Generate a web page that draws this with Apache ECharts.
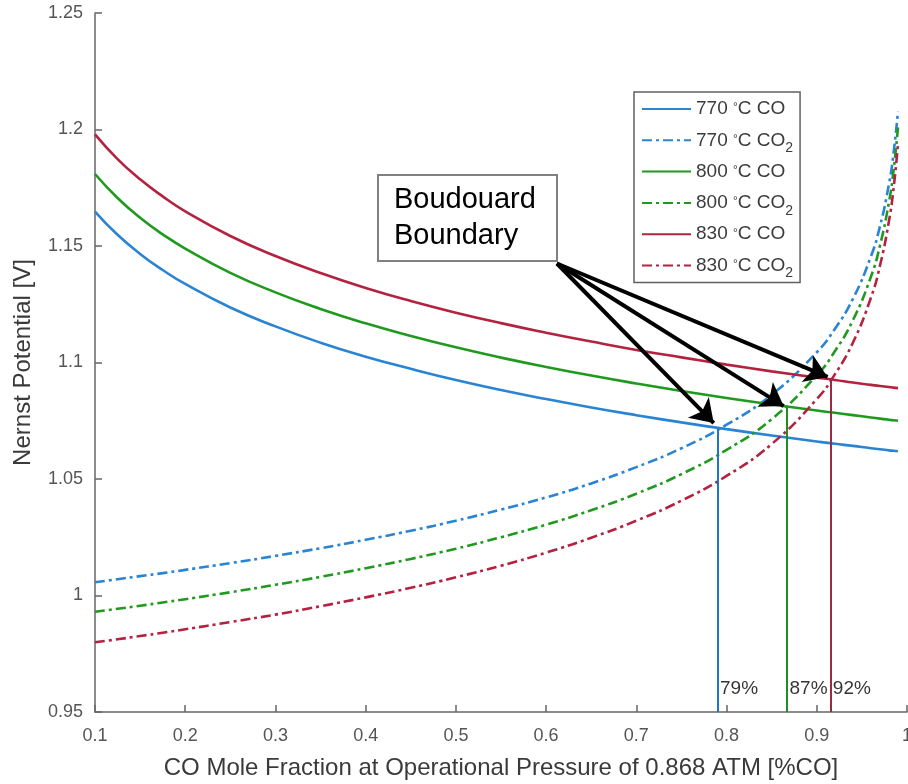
<!DOCTYPE html>
<html>
<head>
<meta charset="utf-8">
<script src="https://cdn.jsdelivr.net/npm/echarts@6/dist/echarts.min.js"></script>
<style>
  html, body { margin: 0; padding: 0; background: #fff; }
  #chart { width: 908px; height: 784px; }
</style>
</head>
<body>
<div id="chart"></div>
<script>
// CO mole fraction (x) sample points
const xs = [0.1, 0.125, 0.15, 0.175, 0.2, 0.25, 0.3, 0.35, 0.4, 0.45, 0.5, 0.55, 0.6, 0.65,
            0.7, 0.75, 0.8, 0.85, 0.9, 0.92, 0.94, 0.96, 0.97, 0.98, 0.985, 0.99];

// Nernst potential [V], solid = CO curves, dash-dot = CO2 curves
const co770 = [1.1648, 1.1548, 1.1466, 1.1397, 1.1337, 1.1236, 1.1155, 1.1085, 1.1025, 1.0973, 1.0925, 1.0882, 1.0843, 1.0807,
               1.0774, 1.0743, 1.0714, 1.0687, 1.0661, 1.0651, 1.0642, 1.0632, 1.0628, 1.0623, 1.0621, 1.0619];
const co2770 = [1.0057, 1.0070, 1.0083, 1.0096, 1.0110, 1.0139, 1.0170, 1.0203, 1.0239, 1.0278, 1.0321, 1.0369, 1.0421, 1.0481,
                1.0551, 1.0632, 1.0733, 1.0862, 1.1044, 1.1144, 1.1273, 1.1455, 1.1584, 1.1766, 1.1896, 1.2078];
const co800 = [1.1809, 1.1706, 1.1621, 1.1550, 1.1489, 1.1385, 1.1301, 1.1230, 1.1168, 1.1114, 1.1065, 1.1021, 1.0981, 1.0944,
               1.0910, 1.0878, 1.0848, 1.0820, 1.0794, 1.0784, 1.0774, 1.0764, 1.0759, 1.0754, 1.0752, 1.0750];
const co2800 = [0.9930, 0.9943, 0.9956, 0.9970, 0.9984, 1.0014, 1.0046, 1.0080, 1.0117, 1.0157, 1.0201, 1.0250, 1.0304, 1.0366,
                1.0437, 1.0521, 1.0625, 1.0757, 1.0945, 1.1048, 1.1181, 1.1368, 1.1501, 1.1688, 1.1821, 1.2009];
const co830 = [1.1979, 1.1873, 1.1786, 1.1713, 1.1649, 1.1543, 1.1457, 1.1384, 1.1320, 1.1264, 1.1214, 1.1169, 1.1128, 1.1090,
               1.1054, 1.1022, 1.0991, 1.0962, 1.0935, 1.0925, 1.0914, 1.0904, 1.0899, 1.0895, 1.0892, 1.0890];
const co2830 = [0.9799, 0.9812, 0.9826, 0.9840, 0.9855, 0.9886, 0.9918, 0.9954, 0.9992, 1.0033, 1.0078, 1.0128, 1.0184, 1.0248,
                1.0321, 1.0407, 1.0513, 1.0650, 1.0843, 1.0949, 1.1085, 1.1278, 1.1415, 1.1607, 1.1744, 1.1936];

// Boudouard boundary crossings
const boundaryX = [0.79, 0.867, 0.915];
const boundaryY = [1.0717, 1.0808, 1.093];
const boundaryLabels = ['79%', '87%', '92%'];
// arrow start (box corner) and arrow tips, in data units
const arrowStart = [0.612, 1.1425];
const arrowTips = [[0.7858, 1.0740], [0.8633, 1.0813], [0.912, 1.0938]];

const blue = '#2a84d4', green = '#1f9a1f', red = '#b3223f';
const dashDot = [10, 4, 3, 4];
const font = 'Liberation Sans, Arial, sans-serif';

function pairs(vals) {
  return xs.map((x, i) => [x, vals[i]]);
}

function curve(name, vals, color, dashed, vline) {
  const s = {
    name: name,
    type: 'line',
    data: pairs(vals),
    smooth: true,
    symbol: 'none',
    lineStyle: { color: color, width: 2.6, type: dashed ? dashDot : 'solid' },
    itemStyle: { color: color },
    z: 3
  };
  if (vline) {
    s.markLine = {
      silent: true,
      symbol: 'none',
      label: { show: false },
      lineStyle: { color: vline.color, width: 2, type: 'solid' },
      data: [[{ coord: [vline.x, 0.95] }, { coord: [vline.x, vline.y] }]]
    };
  }
  return s;
}

const chart = echarts.init(document.getElementById('chart'));

chart.setOption({
  animation: false,
  backgroundColor: '#fff',
  grid: { left: 95, right: 1, top: 13, bottom: 72, containLabel: false, outerBoundsMode: 'none' },
  legend: {
    orient: 'vertical',
    left: 634,
    top: 92,
    padding: [2, 7, 2, 7],
    itemWidth: 49,
    itemHeight: 14,
    itemGap: 1.3,
    borderColor: '#606060',
    borderWidth: 1.5,
    backgroundColor: '#fff',
    itemStyle: { opacity: 0 },
    data: ['770 °C CO', '770 °C CO2', '800 °C CO', '800 °C CO2', '830 °C CO', '830 °C CO2'],
    formatter: function (name) {
      const parts = name.split(' ');
      let txt = '{n|' + parts[0] + ' }{d|°}{n|C CO}';
      txt += parts[2] === 'CO2' ? '{s|2}' : '{s| }';
      return txt;
    },
    textStyle: {
      rich: {
        n: { fontFamily: font, fontSize: 19, color: '#3c3c3c', lineHeight: 30 },
        d: { fontFamily: font, fontSize: 12, color: '#3c3c3c', lineHeight: 12, padding: [8, 0, 0, 0], verticalAlign: 'top' },
        s: { fontFamily: font, fontSize: 14, color: '#3c3c3c', lineHeight: 14, padding: [16, 0, 0, 0] }
      }
    }
  },
  xAxis: {
    type: 'value',
    min: 0.1,
    max: 1,
    interval: 0.1,
    name: 'CO Mole Fraction at Operational Pressure of 0.868 ATM [%CO]',
    nameLocation: 'middle',
    nameGap: 44,
    nameTextStyle: { fontFamily: font, fontSize: 24, color: '#3a3a3a' },
    axisLine: { show: true, lineStyle: { color: '#666', width: 1.5 } },
    axisTick: { show: true, inside: true, length: 7, lineStyle: { color: '#666', width: 1.5 } },
    axisLabel: {
      fontFamily: font, fontSize: 18, color: '#555', margin: 15,
      showMinLabel: true, showMaxLabel: true,
      formatter: v => String(+v.toFixed(2))
    },
    splitLine: { show: false }
  },
  yAxis: {
    type: 'value',
    min: 0.95,
    max: 1.25,
    interval: 0.05,
    name: 'Nernst Potential [V]',
    nameLocation: 'middle',
    nameGap: 60,
    nameTextStyle: { fontFamily: font, fontSize: 24, color: '#3a3a3a' },
    axisLine: { show: true, lineStyle: { color: '#666', width: 1.5 } },
    axisTick: { show: true, inside: true, length: 7, lineStyle: { color: '#666', width: 1.5 } },
    axisLabel: {
      fontFamily: font, fontSize: 18, color: '#555', margin: 12,
      showMinLabel: true, showMaxLabel: true,
      formatter: v => String(+v.toFixed(2))
    },
    splitLine: { show: false }
  },
  series: [
    curve('770 °C CO', co770, blue, false, { x: boundaryX[0], y: boundaryY[0], color: '#1f74c4' }),
    curve('770 °C CO2', co2770, blue, true),
    curve('800 °C CO', co800, green, false, { x: boundaryX[1], y: boundaryY[1], color: '#1f901f' }),
    curve('800 °C CO2', co2800, green, true),
    curve('830 °C CO', co830, red, false, { x: boundaryX[2], y: boundaryY[2], color: '#9a2a46' }),
    curve('830 °C CO2', co2830, red, true),
    {
      name: 'labels',
      type: 'scatter',
      symbolSize: 1,
      itemStyle: { color: 'rgba(0,0,0,0)' },
      silent: true,
      z: 5,
      data: boundaryX.map((x, i) => [x, 0.9599, boundaryLabels[i]]),
      label: {
        show: true,
        position: 'right',
        distance: 2,
        formatter: p => p.data[2],
        fontFamily: font,
        fontSize: 19,
        color: '#000'
      },
      markLine: {
        silent: true,
        symbol: ['none', 'arrow'],
        symbolSize: 22,
        label: { show: false },
        lineStyle: { color: '#000', width: 4, type: 'solid' },
        data: arrowTips.map(t => [{ coord: arrowStart }, { coord: t }])
      }
    }
  ],
  graphic: [
    {
      type: 'rect',
      shape: { x: 378, y: 175, width: 179, height: 86 },
      style: { fill: '#fff', stroke: '#808080', lineWidth: 2 },
      z: 10
    },
    {
      type: 'text',
      x: 394,
      y: 182,
      style: {
        text: 'Boudouard\nBoundary',
        font: '29px Liberation Sans, Arial, sans-serif',
        lineHeight: 36,
        fill: '#000',
        verticalAlign: 'top'
      },
      z: 11
    }
  ]
});
</script>
</body>
</html>
